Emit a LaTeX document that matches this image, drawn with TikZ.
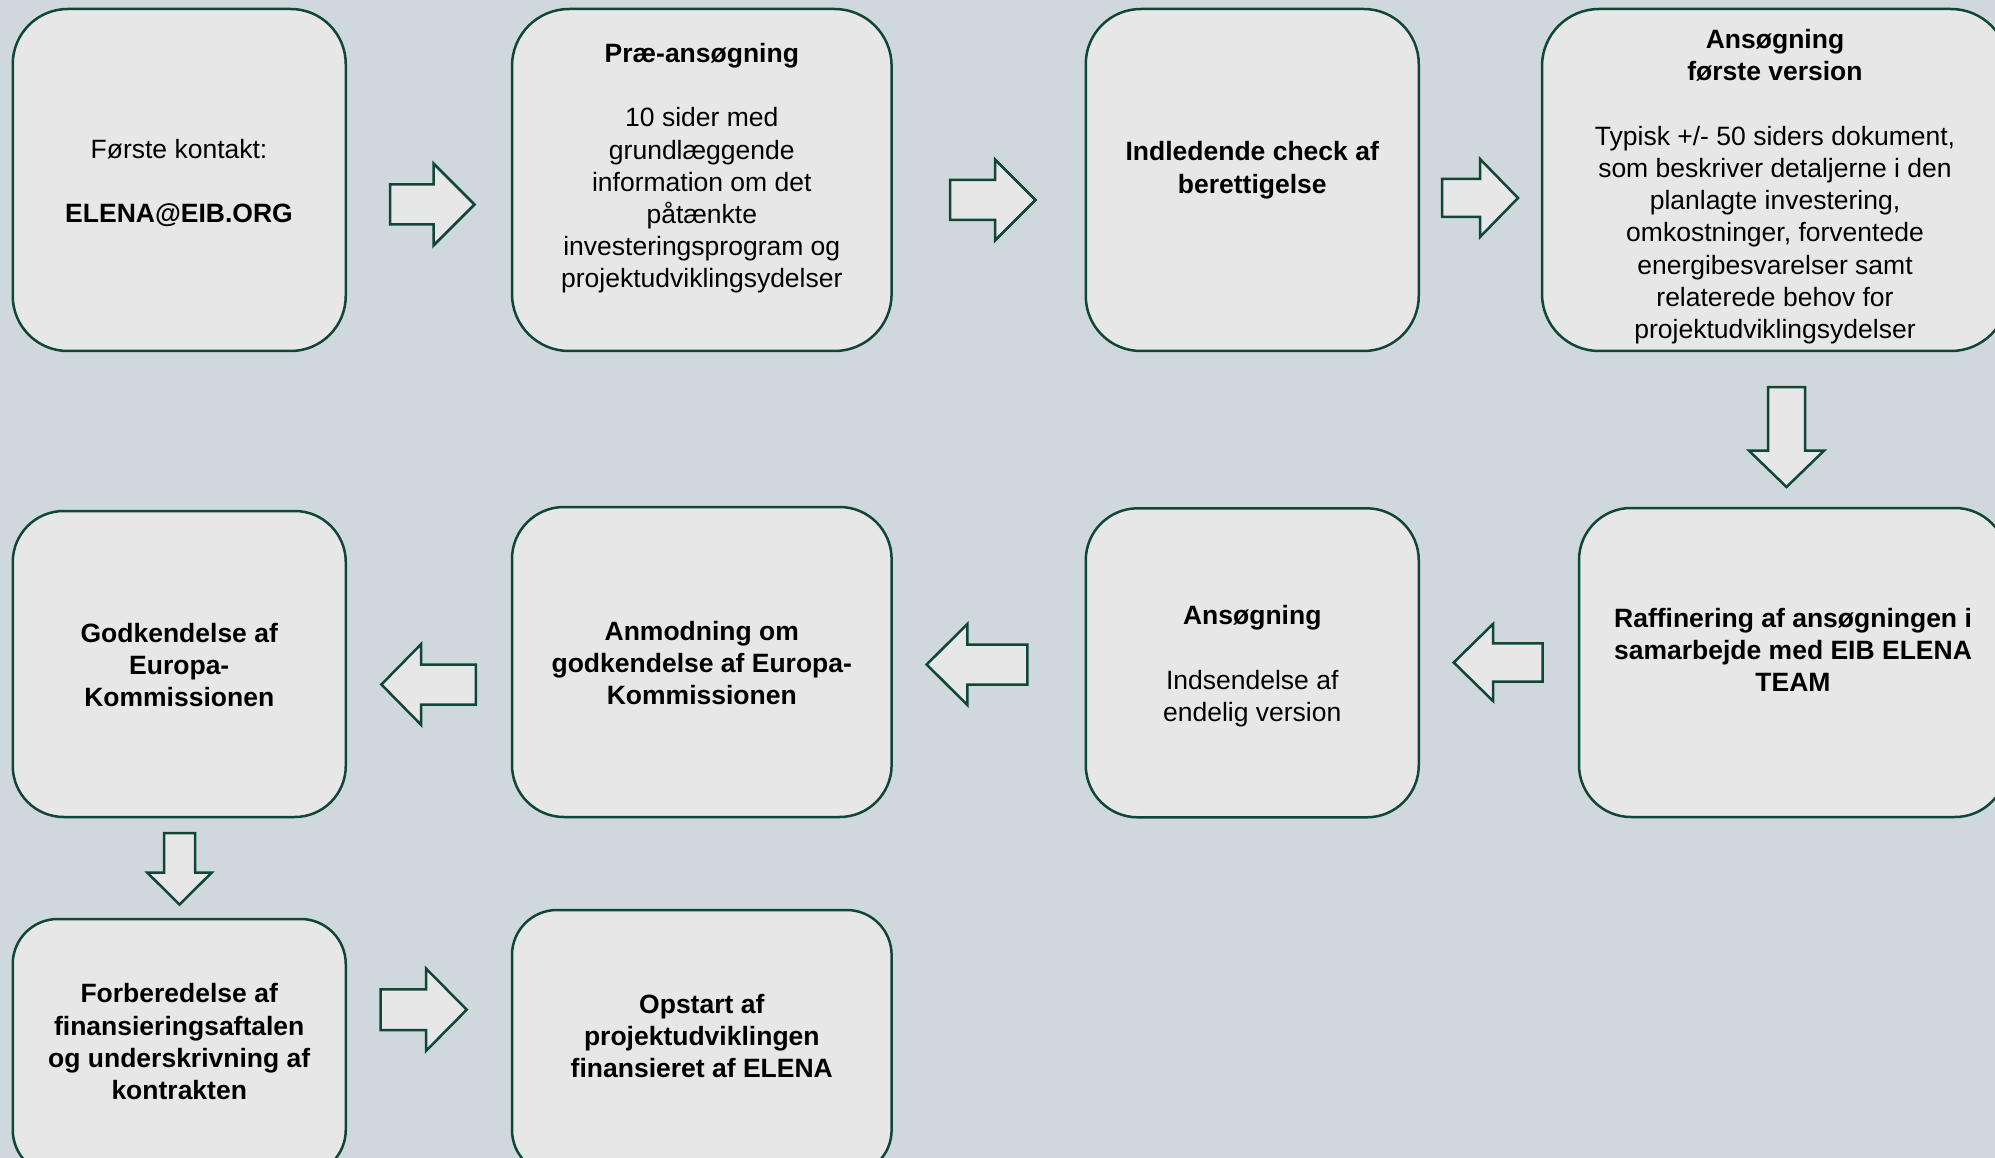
\documentclass[tikz,border=0pt]{standalone}
\usepackage{fontspec}
\setmainfont{Liberation Sans}
\definecolor{bg}{RGB}{207,216,220}
\definecolor{boxfill}{RGB}{231,231,231}
\definecolor{edge}{RGB}{16,70,56}
\newcommand\blockH[6]{\draw[blockarrow] (#1,#4-#5) -- (#2,#4-#5) -- (#2,#4-#6) -- (#3,#4) -- (#2,#4+#6) -- (#2,#4+#5) -- (#1,#4+#5) -- cycle;}
\newcommand\blockV[6]{\draw[blockarrow] (#1-#5,#2) -- (#1+#5,#2) -- (#1+#5,#3) -- (#1+#6,#3) -- (#1,#4) -- (#1-#6,#3) -- (#1-#5,#3) -- cycle;}
\begin{document}
\begin{tikzpicture}[x=1pt,y=-1pt,
  stepbox/.style={draw=edge, fill=boxfill, line width=2.5pt, inner sep=0pt},
  boxtext/.style={align=center, inner sep=0pt, font=\fontsize{26.5}{32.2}\selectfont,
    execute at begin node=\strut, execute at end node=\strut, yshift=-5pt},
  blockarrow/.style={draw=edge, fill=boxfill, line width=2.5pt, line join=miter}]
\fill[bg] (0,0) rectangle (1995,1158);
\useasboundingbox (0,0) rectangle (1995,1158);
\clip (0,0) rectangle (1995,1158);

% boxes
\node[stepbox, minimum width=333pt, minimum height=342pt, rounded corners=55pt] (b1) at (179.25,180) {};
\node[stepbox, minimum width=379.6pt, minimum height=342pt, rounded corners=57pt] (b2) at (701.8,180) {};
\node[stepbox, minimum width=333pt, minimum height=342pt, rounded corners=55pt] (b3) at (1252.25,180) {};
\node[stepbox, minimum width=466pt, minimum height=342pt, rounded corners=57pt] (b4) at (1775,180) {};
\node[stepbox, minimum width=428pt, minimum height=309pt, rounded corners=52pt] (b5) at (1793,662.5) {};
\node[stepbox, minimum width=333pt, minimum height=309pt, rounded corners=52pt] (b6) at (1252.25,662.8) {};
\node[stepbox, minimum width=333pt, minimum height=306pt, rounded corners=51pt] (b7) at (179.25,664) {};
\node[stepbox, minimum width=379.6pt, minimum height=310pt, rounded corners=52pt] (b8) at (701.8,662) {};
\node[stepbox, minimum width=333pt, minimum height=256pt, rounded corners=45pt] (b9) at (179.25,1047) {};
\node[stepbox, minimum width=379.6pt, minimum height=265pt, rounded corners=45pt] (b10) at (701.8,1042.5) {};

% texts
\node[boxtext] (t1) at (179,180.8) {Første kontakt:\\[32.2pt]\textbf{ELENA@EIB.ORG}};
\node[boxtext] (t2) at (701.8,165.4) {\textbf{Præ-ansøgning}\\[32.2pt]10 sider med\\grundlæggende\\information om det\\påtænkte\\investeringsprogram og\\projektudviklingsydelser};
\node[boxtext] (t3) at (1252.25,167.3) {\textbf{Indledende check af}\\\textbf{berettigelse}};
\node[boxtext] (t4) at (1775,183.85) {\textbf{Ansøgning}\\\textbf{første version}\\[32.2pt]Typisk +/- 50 siders dokument,\\som beskriver detaljerne i den\\planlagte investering,\\omkostninger, forventede\\energibesvarelser samt\\relaterede behov for\\projektudviklingsydelser};
\node[boxtext] (t5) at (1793,650) {\textbf{Raffinering af ansøgningen i}\\\textbf{samarbejde med EIB ELENA}\\\textbf{TEAM}};
\node[boxtext] (t6) at (1252.25,663.5) {\textbf{Ansøgning}\\[32.2pt]Indsendelse af\\endelig version};
\node[boxtext] (t7) at (179.25,664.7) {\textbf{Godkendelse af}\\\textbf{Europa-}\\\textbf{Kommissionen}};
\node[boxtext] (t8) at (701.8,663) {\textbf{Anmodning om}\\\textbf{godkendelse af Europa-}\\\textbf{Kommissionen}};
\node[boxtext] (t9) at (179.25,1041.4) {\textbf{Forberedelse af}\\\textbf{finansieringsaftalen}\\\textbf{og underskrivning af}\\\textbf{kontrakten}};
\node[boxtext] (t10) at (701.8,1035.7) {\textbf{Opstart af}\\\textbf{projektudviklingen}\\\textbf{finansieret af ELENA}};

% block arrows
\blockH{390}{433.5}{474.5}{204.5}{20}{41}
\blockH{950}{995}{1035.5}{200}{20}{40.5}
\blockH{1442}{1480}{1518}{198}{19}{39}
\blockV{1786.5}{387}{450.7}{487}{18.5}{37.5}
\blockH{1542.5}{1493}{1453.7}{662.5}{19.2}{38.5}
\blockH{1027.3}{967.3}{926.7}{664.5}{20}{40.5}
\blockH{475.8}{421}{381.4}{684.5}{20}{40.3}
\blockV{179.5}{833}{872.6}{904.6}{15.5}{32.2}
\blockH{380.7}{426}{466.7}{1009.7}{20.3}{41.2}
\end{tikzpicture}
\end{document}
